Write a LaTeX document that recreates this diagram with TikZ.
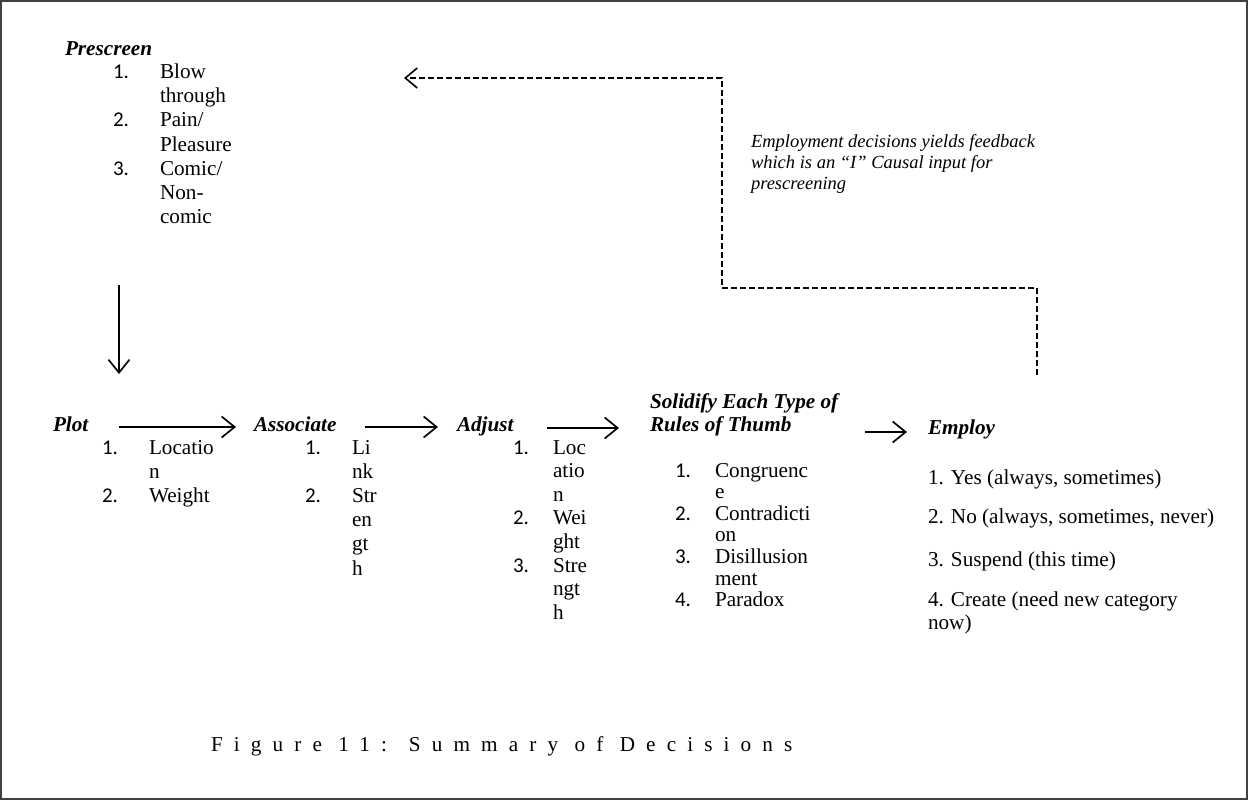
\documentclass[tikz,border=0pt]{standalone}
\usepackage{fontspec}
\setmainfont{Liberation Serif}
\newfontfamily\numfont{Carlito}
\usetikzlibrary{arrows.meta}
\newcommand\txtlines[5]{\foreach \t [count=\i from 0] in {#5}{\node[txt] (#1-\i) at (#2,{#3+\i*#4}) {\t};}}
\begin{document}
\begin{tikzpicture}[x=1pt,y=-1pt,
  every node/.style={inner sep=0pt, outer sep=0pt, anchor=base west},
  head/.style={font=\fontsize{21.2}{24}\selectfont\bfseries\itshape},
  num/.style={font=\fontsize{21}{24}\selectfont\numfont},
  txt/.style={font=\fontsize{21.2}{24}\selectfont},
  note/.style={font=\fontsize{18.5}{21}\selectfont\itshape},
  flow/.style={line width=1.7pt, -{Straight Barb[length=13pt,width=21pt,line width=1.7pt]}},
  feedback/.style={line width=1.6pt, dash pattern=on 6pt off 3pt, -{Straight Barb[length=12pt,width=20pt,line width=1.6pt]}},
  frame/.style={draw=black!75, line width=1.5pt}]
\useasboundingbox (0,0) rectangle (1249,801);
\draw[frame] (1,1) rectangle (1247,799);

% Prescreen
\node[head] (pre) at (65,55) {Prescreen};
\node[num] (pre-n1) at (113,78.5) {1.};
\node[num] (pre-n2) at (113,126.9) {2.};
\node[num] (pre-n3) at (113,175.3) {3.};
\txtlines{pre}{160}{78.5}{24.2}{Blow,through,Pain/,Pleasure,Comic/,Non-,comic}

% Plot
\node[head] (plot) at (53,431) {Plot};
\node[num] (plot-n1) at (102,454) {1.};
\node[num] (plot-n2) at (102,502) {2.};
\txtlines{plot}{149}{454}{24}{Locatio,n,Weight}

% Associate
\node[head] (assoc) at (254,431) {Associate};
\node[num] (assoc-n1) at (305,454) {1.};
\node[num] (assoc-n2) at (305,502) {2.};
\txtlines{assoc}{352}{454}{24.2}{Li,nk,Str,en,gt,h}

% Adjust
\node[head] (adj) at (457,431) {Adjust};
\node[num] (adj-n1) at (513,454) {1.};
\node[num] (adj-n2) at (513,524.8) {2.};
\node[num] (adj-n3) at (513,572) {3.};
\txtlines{adj}{553}{454}{23.6}{Loc,atio,n,Wei,ght,Stre,ngt,h}

% Solidify
\node[head] (sol) at (650,408) {Solidify Each Type of};
\node[head] (sol2) at (650,431) {Rules of Thumb};
\node[num] (sol-n1) at (675,477) {1.};
\node[num] (sol-n2) at (675,520.2) {2.};
\node[num] (sol-n3) at (675,563.4) {3.};
\node[num] (sol-n4) at (675,606.6) {4.};
\txtlines{sol}{715}{477}{21.6}{Congruenc,e,Contradicti,on,Disillusion,ment,Paradox}

% Employ
\node[head] (emp) at (928,434) {Employ};
\node[txt] (emp-1) at (928,484) {1. Yes (always, sometimes)};
\node[txt] (emp-2) at (928,523) {2. No (always, sometimes, never)};
\node[txt] (emp-3) at (928,566) {3. Suspend (this time)};
\node[txt] (emp-4) at (928,606) {4. Create (need new category};
\node[txt] (emp-5) at (928,629) {now)};

% feedback note
\node[note] (fb-1) at (751,147) {Employment decisions yields feedback};
\node[note] (fb-2) at (751,168) {which is an “I” Causal input for};
\node[note] (fb-3) at (751,189) {prescreening};

% caption
\node[font=\fontsize{21.2}{24}\selectfont\addfontfeature{LetterSpace=52.5}] (cap) at (211,751) {Figure 11: Summary of Decisions};

% connector coordinates
\coordinate (d1) at (119,285);
\coordinate (d2) at (119,374);
\coordinate (a1s) at (119,427);
\coordinate (a1e) at (236,427);
\coordinate (a2s) at (365,427);
\coordinate (a2e) at (438,427);
\coordinate (a3s) at (547,428);
\coordinate (a3e) at (619,428);
\coordinate (a4s) at (865,432);
\coordinate (a4e) at (907,432);
\coordinate (fbs) at (1037,375);
\coordinate (fbc1) at (1037,288);
\coordinate (fbc2) at (722,288);
\coordinate (fbc3) at (722,78);
\coordinate (fbe) at (404,78);

\draw[flow] (d1) -- (d2);
\draw[flow] (a1s) -- (a1e);
\draw[flow] (a2s) -- (a2e);
\draw[flow] (a3s) -- (a3e);
\draw[flow] (a4s) -- (a4e);
\draw[feedback] (fbs) -- (fbc1) -- (fbc2) -- (fbc3) -- (fbe);
\end{tikzpicture}
\end{document}
